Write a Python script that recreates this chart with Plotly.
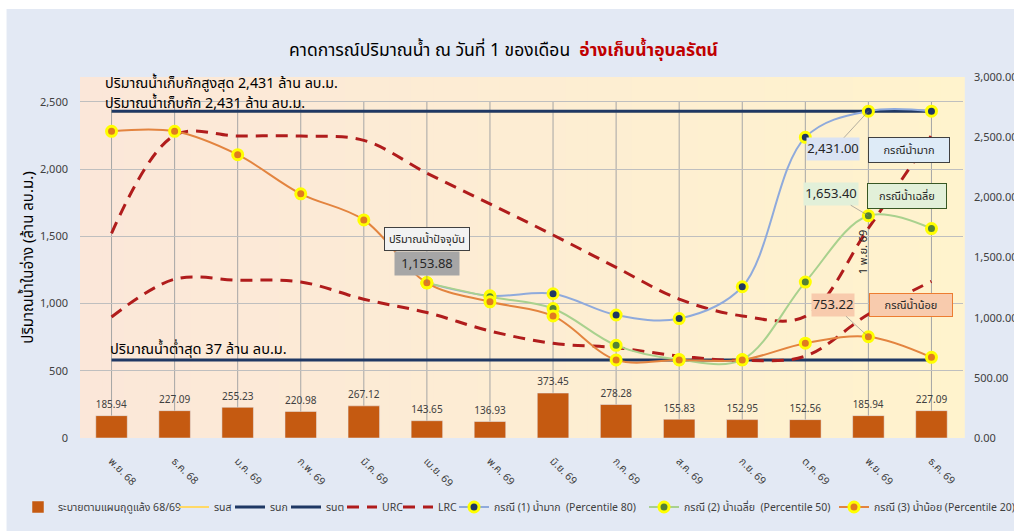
import plotly.graph_objects as go

months = ["พ.ย. 68", "ธ.ค. 68", "ม.ค. 69", "ก.พ. 69", "มี.ค. 69", "เม.ย. 69", "พ.ค. 69",
          "มิ.ย. 69", "ก.ค. 69", "ส.ค. 69", "ก.ย. 69", "ต.ค. 69", "พ.ย. 69", "ธ.ค. 69"]
release = [185.94, 227.09, 255.23, 220.98, 267.12, 143.65, 136.93,
           373.45, 278.28, 155.83, 152.95, 152.56, 185.94, 227.09]
rns = [2431] * 14
rnk = [2431] * 14
rnt = [581] * 14
urc = [1522, 2251, 2246, 2246, 2214, 1970, 1741, 1510, 1269, 1033, 908, 905, 1560, 2250]
lrc = [900, 1181, 1174, 1161, 1032, 933, 796, 704, 672, 609, 577, 609, 920, 1165]
case_months = months[5:]
case1 = [1153.88, 1058, 1073, 915, 888, 1125, 2236, 2431.00, 2431]
case2 = [1153.88, 1050, 963, 689, 583, 583, 1160, 1653.40, 1558]
case3 = [2281, 2281, 2107, 1816, 1622, 1153.88, 1013, 908, 581, 581, 581, 705, 753.22, 600]

FONT = "Tahoma, 'Noto Sans Thai', 'Leelawadee UI', 'DejaVu Sans', sans-serif"

OFF = 0  # page body margin removed by post_script
W, H = 1014, 531
# plot area in page pixels: x 79.5..963, y 77..438.5
L = 79.5 - OFF
R = W - (963 - OFF)
T = 77 - OFF
B = H - (438.5 - OFF)
pw, ph = W - L - R, H - T - B
def px2x(p):
    return (p - OFF - L) / pw
def py2y(p):
    return (H - B - (p - OFF)) / ph

fig = go.Figure()

fig.add_trace(go.Bar(x=months, y=release, name="ระบายตามแผนฤดูแล้ง 68/69",
                     marker=dict(color="#C55A11"), width=0.5, yaxis="y",
                     texttemplate="%{y:.2f}", textposition="outside",
                     textfont=dict(size=11, color="#404040"), cliponaxis=False,
                     legend="legend"))

fig.add_trace(go.Scatter(x=months, y=rns, name="รนส", mode="lines",
                         line=dict(color="#FFD966", width=2), yaxis="y2", legend="legend2"))
fig.add_trace(go.Scatter(x=months, y=rnk, name="รนก", mode="lines",
                         line=dict(color="#1F3864", width=3), yaxis="y2", legend="legend3"))
fig.add_trace(go.Scatter(x=months, y=rnt, name="รนต", mode="lines",
                         line=dict(color="#1F3864", width=3), yaxis="y2", legend="legend4"))
fig.add_trace(go.Scatter(x=months, y=urc, name="URC", mode="lines",
                         line=dict(color="#B01C1C", width=3, dash="12px,8px", shape="spline"),
                         yaxis="y2", legend="legend5"))
fig.add_trace(go.Scatter(x=months, y=lrc, name="LRC", mode="lines",
                         line=dict(color="#B01C1C", width=3, dash="12px,8px", shape="spline"),
                         yaxis="y2", legend="legend6"))

mk_line = dict(color="#FFFF00", width=3)
fig.add_trace(go.Scatter(x=case_months, y=case1, name="กรณี (1) น้ำมาก  (Percentile 80)",
                         mode="lines+markers",
                         line=dict(color="#8FAADC", width=2, shape="spline"),
                         marker=dict(color="#1F3864", size=10, line=mk_line), yaxis="y2",
                         legend="legend7"))
fig.add_trace(go.Scatter(x=case_months, y=case2, name="กรณี (2) น้ำเฉลี่ย  (Percentile 50)",
                         mode="lines+markers",
                         line=dict(color="#A9D18E", width=2, shape="spline"),
                         marker=dict(color="#548235", size=10, line=mk_line), yaxis="y2",
                         legend="legend8"))
fig.add_trace(go.Scatter(x=months, y=case3, name="กรณี (3) น้ำน้อย (Percentile 20)",
                         mode="lines+markers",
                         line=dict(color="#E3843F", width=2, shape="spline"),
                         marker=dict(color="#E07B20", size=10, line=mk_line), yaxis="y2",
                         legend="legend9"))

# background shapes
shapes = []
# white frame at the top/left edges like the reference
shapes.append(dict(type="rect", xref="paper", yref="paper", x0=px2x(-10), x1=px2x(6),
                   y0=py2y(600), y1=py2y(-10), fillcolor="#FFFFFF", line=dict(width=0),
                   layer="below"))
shapes.append(dict(type="rect", xref="paper", yref="paper", x0=px2x(-10), x1=px2x(1100),
                   y0=py2y(9), y1=py2y(-10), fillcolor="#FFFFFF", line=dict(width=0),
                   layer="below"))
n = 40
c0 = (251, 231, 217)
c1 = (255, 243, 205)
for i in range(n):
    t = i / (n - 1)
    c = tuple(round(c0[k] + (c1[k] - c0[k]) * t) for k in range(3))
    shapes.append(dict(type="rect", xref="paper", yref="paper", x0=i / n, x1=(i + 1) / n + 0.002,
                       y0=0, y1=1, fillcolor="rgb(%d,%d,%d)" % c, line=dict(width=0),
                       layer="below"))
for m in months:
    shapes.append(dict(type="line", xref="x", yref="y2", x0=m, x1=m, y0=0, y1=2500,
                       line=dict(color="#A6A6A6", width=1), layer="below"))

title_text = ("คาดการณ์ปริมาณน้ำ ณ วันที่ 1 ของเดือน  "
              "<span style='color:#C00000'><b>อ่างเก็บน้ำอุบลรัตน์</b></span>")

ann = []
def txt(text, x, y, size=14.3, **kw):
    d = dict(text=text, xref="paper", yref="paper", x=px2x(x), y=py2y(y), showarrow=False,
             font=dict(size=size, color="#000000", family=FONT), xanchor="left",
             yanchor="middle", align="left")
    d.update(kw)
    ann.append(d)

txt("ปริมาณน้ำเก็บกักสูงสุด 2,431 ล้าน ลบ.ม.", 103, 83.5)
txt("ปริมาณน้ำเก็บกัก 2,431 ล้าน ลบ.ม.", 103, 103.5)
txt("ปริมาณน้ำต่ำสุด 37 ล้าน ลบ.ม.", 108, 350, size=14.6)

def box(text, x, y, bg, border, w, h, size=11):
    ann.append(dict(text=text, xref="paper", yref="paper", x=px2x(x), y=py2y(y),
                    showarrow=False, font=dict(size=size, color="#262626", family=FONT),
                    bgcolor=bg, bordercolor=border, borderwidth=1, borderpad=0,
                    width=w, height=h, xanchor="center", yanchor="middle"))

box("ปริมาณน้ำปัจจุบัน", 427, 239, "#F2F2F2", "#404040", 84, 22)
box("กรณีน้ำมาก", 909, 150, "#DEEBF7", "#404040", 80, 24)
box("กรณีน้ำเฉลี่ย", 907, 196, "#E2F0D9", "#385723", 78, 24)
box("กรณีน้ำน้อย", 911, 305, "#F8CBAD", "#ED7D31", 82, 22)

def vlabel(text, x, y, ax, ay, bg, w, h):
    ann.append(dict(text=text, xref="x", yref="y2", x=x, y=y, ax=ax, ay=ay,
                    showarrow=True, arrowhead=0, arrowwidth=0.6, arrowcolor="#7F7F7F",
                    font=dict(size=13, color="#262626", family=FONT), bgcolor=bg,
                    borderpad=0, width=w, height=h))

vlabel("1,153.88", "เม.ย. 69", 1153.88, 0, -19, "#A6A6A6", 64, 23)
vlabel("2,431.00", "พ.ย. 69", 2431.00, -35, 38, "#DAE3F3", 52, 22)
vlabel("1,653.40", "พ.ย. 69", 1653.40, -37, -22, "#E2F0D9", 54, 22)
vlabel("753.22", "พ.ย. 69", 753.22, -35, -32, "#F8CBAD", 42, 22)

ann.append(dict(text="1 พ.ย. 69", xref="paper", yref="paper", x=px2x(874), y=py2y(252),
                showarrow=False, textangle=-90,
                font=dict(size=11, color="#262626", family=FONT)))

# legends: one per entry, placed so texts start near where the reference's do
leg_text_x = [58, 214, 270, 326, 382, 438, 494, 684, 874]
legends = {}
for i, tx in enumerate(leg_text_x):
    key = "legend" if i == 0 else "legend%d" % (i + 1)
    legends[key] = dict(orientation="h", xref="container", yref="container",
                        xanchor="left", yanchor="middle",
                        x=(tx - OFF - 40) / W, y=1 - (507 - OFF) / H,
                        font=dict(size=10.5, color="#404040"),
                        bgcolor="rgba(0,0,0,0)", itemwidth=30, borderwidth=0)

fig.update_layout(
    width=W, height=H,
    margin=dict(l=L, r=R, t=T, b=B, autoexpand=False),
    paper_bgcolor="#E3E9F4",
    plot_bgcolor="rgba(0,0,0,0)",
    font=dict(family=FONT, color="#404040", size=11),
    title=dict(text=title_text, x=(503.5 - OFF) / W, xanchor="center", y=1 - 50 / H,
               yanchor="middle", font=dict(size=17.5, color="#000000", family=FONT)),
    xaxis=dict(tickangle=45, showgrid=False, showline=False, ticks="", automargin=False,
               ticklabelstandoff=14,
               tickfont=dict(size=10.5, color="#404040"), range=[-0.5, 13.5]),
    yaxis=dict(side="right", range=[0, 3000], tickvals=[0, 500, 1000, 1500, 2000, 2500, 3000],
               tickformat=",.2f", showgrid=False, zeroline=False, showline=False,
               automargin=False, ticklabelstandoff=10,
               tickfont=dict(size=11, color="#404040")),
    yaxis2=dict(overlaying="y", side="left", anchor="x", range=[0, 2685],
                tickvals=[0, 500, 1000, 1500, 2000, 2500], tickformat=",d",
                showgrid=True, gridcolor="#BFBFBF", gridwidth=1, zeroline=False,
                automargin=False, ticklabelstandoff=11,
                tickfont=dict(size=11, color="#404040"),
                title=dict(text="ปริมาณน้ำในอ่าง (ล้าน ลบ.ม.)", standoff=0,
                           font=dict(size=15, color="#000000"))),
    showlegend=True,
    bargap=0.5,
    shapes=shapes,
    annotations=ann,
    **legends,
)

fig.write_html("out.html",
               config={"displayModeBar": False},
               post_script="document.body.style.margin='0';"
                           "document.documentElement.style.overflow='hidden';"
                           "document.body.style.overflow='hidden';")
